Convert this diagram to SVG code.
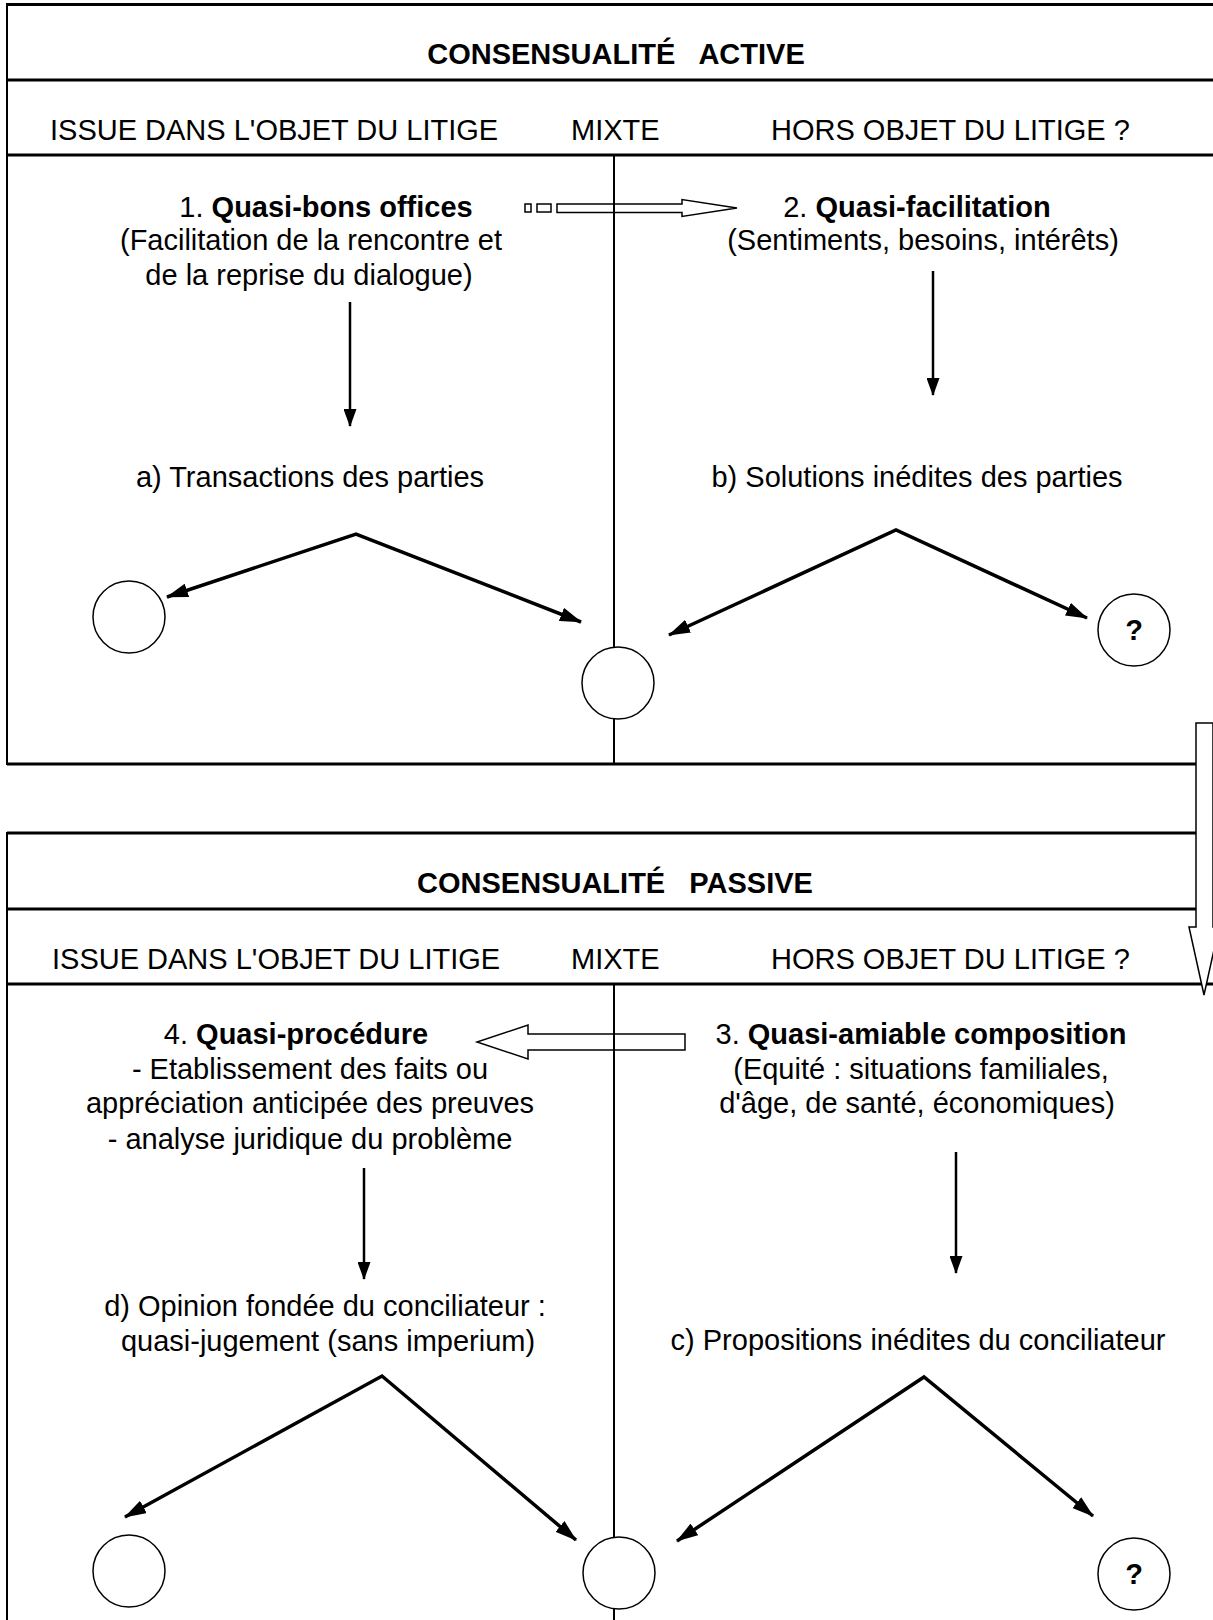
<svg xmlns="http://www.w3.org/2000/svg" width="1213" height="1620" viewBox="0 0 1213 1620">
  <style>
    text { font-family: "Liberation Sans", Arial, sans-serif; font-size: 29px; fill: #000; }
    .b { font-weight: bold; }
    .mid { text-anchor: middle; }
    .frame { stroke: #000; stroke-width: 3; fill: none; }
    .div { stroke: #000; stroke-width: 2; fill: none; }
    .conn { stroke: #000; stroke-width: 3.5; fill: none; stroke-linejoin: miter; }
    .down { stroke: #000; stroke-width: 2.5; fill: none; }
    .hollow { stroke: #000; stroke-width: 1.5; fill: none; }
    .node { stroke: #000; stroke-width: 1.5; fill: #fff; }
  </style>
  <defs>
    <marker id="head" viewBox="0 0 22 14" refX="21" refY="7" markerWidth="22" markerHeight="14" markerUnits="userSpaceOnUse" orient="auto-start-reverse">
      <path d="M0,0 L22,7 L0,14 Z" fill="#000"/>
    </marker>
    <marker id="headDown" viewBox="0 0 18 13" refX="17" refY="6.5" markerWidth="18" markerHeight="13" markerUnits="userSpaceOnUse" orient="auto">
      <path d="M0,0 L18,6.5 L0,13 Z" fill="#000"/>
    </marker>
  </defs>
  <rect width="1213" height="1620" fill="#fff"/>

  <!-- Upper panel: active consensuality -->
  <g id="panel-active">
    <line class="frame" x1="7" y1="4.5" x2="1213" y2="4.5"/>
    <line class="frame" x1="7" y1="80" x2="1213" y2="80"/>
    <line class="frame" x1="7" y1="155" x2="1213" y2="155"/>
    <line class="frame" x1="7" y1="764" x2="1213" y2="764"/>
    <line class="div" x1="7" y1="3" x2="7" y2="765"/>
    <text class="b mid" x="616" y="64" xml:space="preserve">CONSENSUALITÉ   ACTIVE</text>
    <text x="50" y="140">ISSUE DANS L'OBJET DU LITIGE</text>
    <text x="571" y="140">MIXTE</text>
    <text x="771" y="140">HORS OBJET DU LITIGE ?</text>
  </g>

  <!-- Lower panel: passive consensuality -->
  <g id="panel-passive">
    <line class="frame" x1="7" y1="833" x2="1213" y2="833"/>
    <line class="frame" x1="7" y1="909" x2="1213" y2="909"/>
    <line class="frame" x1="7" y1="984" x2="1213" y2="984"/>
    <line class="div" x1="7" y1="832" x2="7" y2="1620"/>
    <text class="b mid" x="615" y="893" xml:space="preserve">CONSENSUALITÉ   PASSIVE</text>
    <text x="52" y="969">ISSUE DANS L'OBJET DU LITIGE</text>
    <text x="571" y="969">MIXTE</text>
    <text x="771" y="969">HORS OBJET DU LITIGE ?</text>
  </g>

  <!-- Connectors -->
  <g id="connectors">
    <!-- hollow arrow 1 -> 2 with dotted tail -->
    <rect class="hollow" x="525" y="204" width="6" height="8"/>
    <rect class="hollow" x="537" y="204" width="14" height="8"/>
    <path class="hollow" d="M557,204 L682,204 L682,199.5 L737,208 L682,216.5 L682,212.5 L557,212.5 Z"/>
    <!-- hollow arrow 3 -> 4 -->
    <path class="hollow" d="M685,1034 L528,1034 L528,1025 L477,1042 L528,1059 L528,1050 L685,1050 Z"/>

    <line class="down" x1="350" y1="302" x2="350" y2="426" marker-end="url(#headDown)"/>
    <line class="down" x1="933" y1="271" x2="933" y2="395" marker-end="url(#headDown)"/>
    <line class="down" x1="364" y1="1168" x2="364" y2="1279" marker-end="url(#headDown)"/>
    <line class="down" x1="956" y1="1152" x2="956" y2="1273" marker-end="url(#headDown)"/>

    <polyline class="conn" points="167,597 356,534 581,622" marker-start="url(#head)" marker-end="url(#head)"/>
    <polyline class="conn" points="669,635 896,530 1087,618" marker-start="url(#head)" marker-end="url(#head)"/>
    <polyline class="conn" points="125,1517 382,1376 576,1540" marker-start="url(#head)" marker-end="url(#head)"/>
    <polyline class="conn" points="677,1541 924,1377 1093,1516" marker-start="url(#head)" marker-end="url(#head)"/>

    <!-- column dividers -->
    <line class="div" x1="614" y1="155" x2="614" y2="764"/>
    <line class="div" x1="614" y1="984" x2="614" y2="1620"/>

    <!-- hollow arrow from the active panel down to the passive panel -->
    <path d="M1196,723 L1213,723 L1213,927 L1219,927 L1204,995 L1189,927 L1196,927 Z" fill="#fff" stroke="#000" stroke-width="1.5"/>
  </g>

  <!-- Step 1 -->
  <g id="node-quasi-bons-offices">
    <text class="mid" x="326" y="217">1. <tspan class="b">Quasi-bons offices</tspan></text>
    <text class="mid" x="311" y="250">(Facilitation de la rencontre et</text>
    <text class="mid" x="309" y="285">de la reprise du dialogue)</text>
  </g>
  <g id="node-transactions">
    <text class="mid" x="310" y="487">a) Transactions des parties</text>
  </g>
  <!-- Step 2 -->
  <g id="node-quasi-facilitation">
    <text class="mid" x="917" y="217">2. <tspan class="b">Quasi-facilitation</tspan></text>
    <text class="mid" x="923" y="250">(Sentiments, besoins, intérêts)</text>
  </g>
  <g id="node-solutions">
    <text class="mid" x="917" y="487">b) Solutions inédites des parties</text>
  </g>
  <g id="node-a-out-left"><circle class="node" cx="129" cy="617" r="36"/></g>
  <g id="node-a-out-mid"><circle class="node" cx="618" cy="683" r="36"/></g>
  <g id="node-b-out-right">
    <circle class="node" cx="1134" cy="630" r="36"/>
    <text class="b mid" x="1134" y="640">?</text>
  </g>

  <!-- Step 3 -->
  <g id="node-quasi-amiable">
    <text class="mid" x="921" y="1044">3. <tspan class="b">Quasi-amiable composition</tspan></text>
    <text class="mid" x="921" y="1079">(Equité : situations familiales,</text>
    <text class="mid" x="917" y="1113">d'âge, de santé, économiques)</text>
  </g>
  <g id="node-propositions">
    <text class="mid" x="918" y="1350">c) Propositions inédites du conciliateur</text>
  </g>
  <!-- Step 4 -->
  <g id="node-quasi-procedure">
    <text class="mid" x="296" y="1044">4. <tspan class="b">Quasi-procédure</tspan></text>
    <text class="mid" x="310" y="1079">- Etablissement des faits ou</text>
    <text class="mid" x="310" y="1113">appréciation anticipée des preuves</text>
    <text class="mid" x="310" y="1149">- analyse juridique du problème</text>
  </g>
  <g id="node-opinion">
    <text class="mid" x="325" y="1316">d) Opinion fondée du conciliateur :</text>
    <text class="mid" x="328" y="1351">quasi-jugement (sans imperium)</text>
  </g>
  <g id="node-d-out-left"><circle class="node" cx="129" cy="1571" r="36"/></g>
  <g id="node-d-out-mid"><circle class="node" cx="619" cy="1573" r="36"/></g>
  <g id="node-c-out-right">
    <circle class="node" cx="1134" cy="1574" r="36"/>
    <text class="b mid" x="1134" y="1584">?</text>
  </g>
</svg>
